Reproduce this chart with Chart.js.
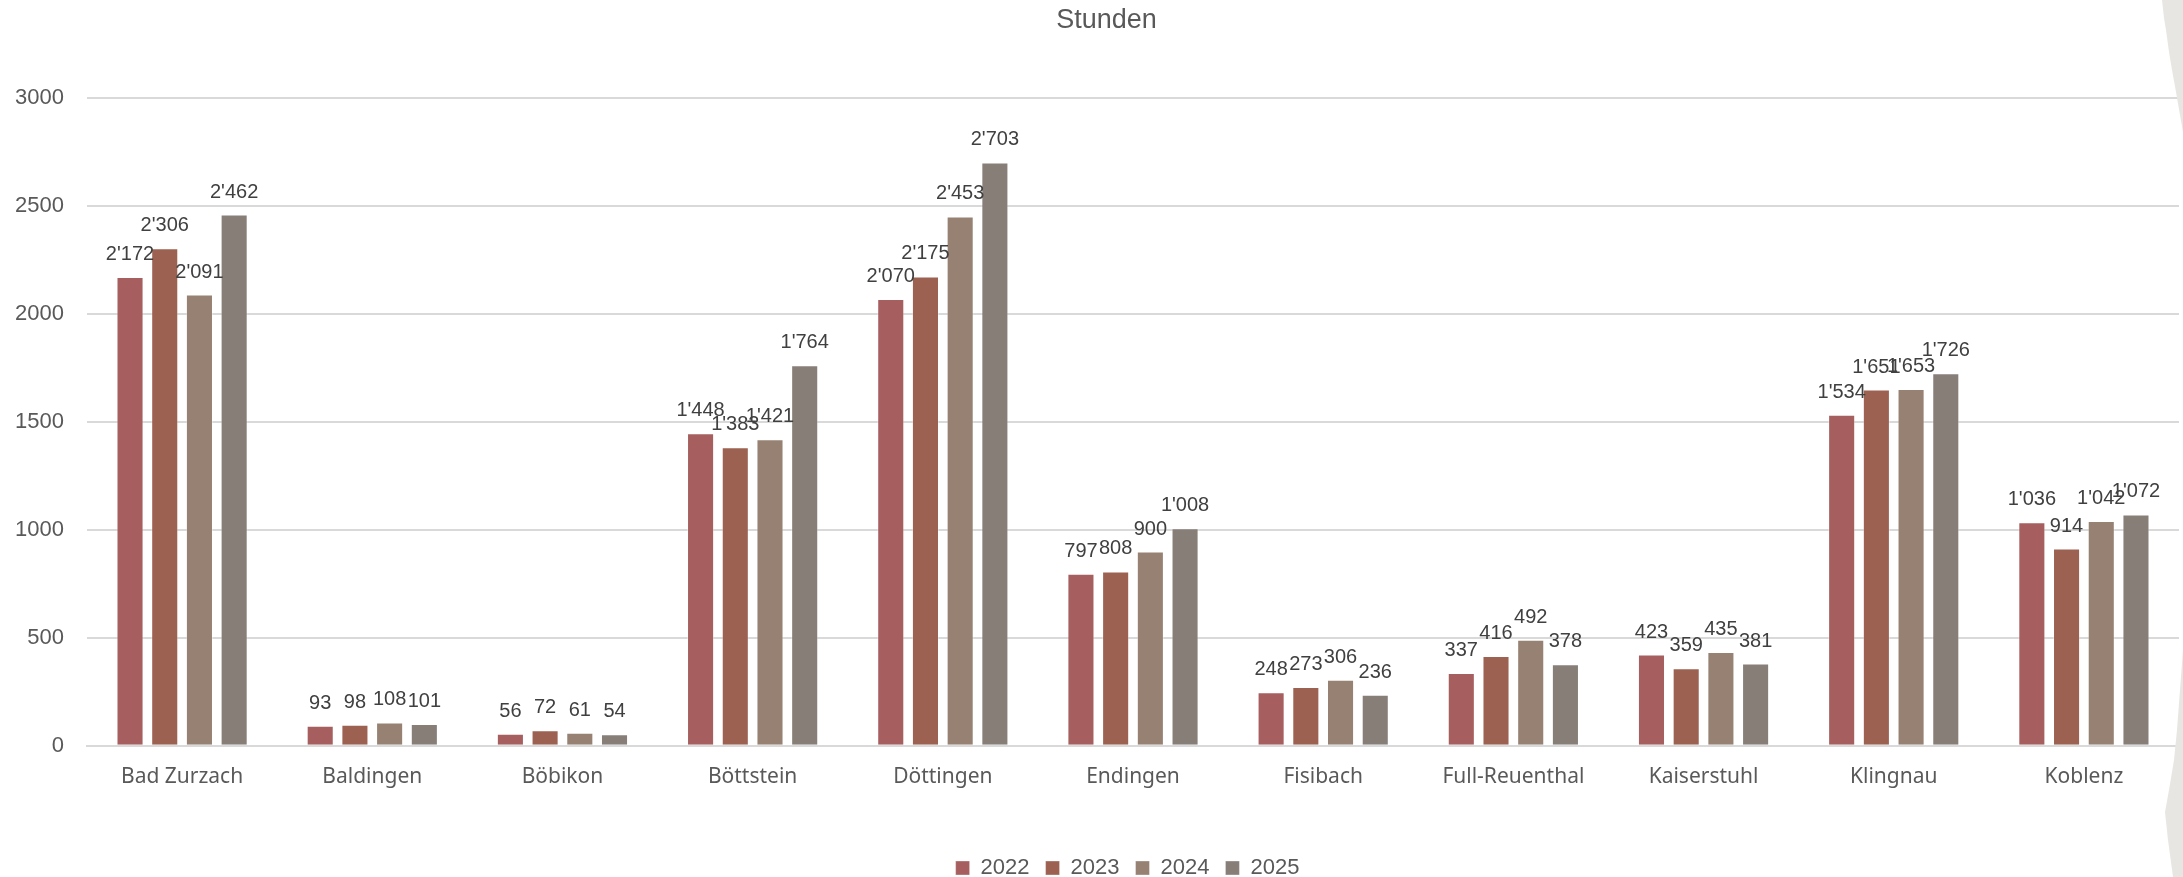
<!DOCTYPE html>
<html>
<head>
<meta charset="utf-8">
<script src="https://cdn.jsdelivr.net/npm/chart.js@4/dist/chart.umd.min.js"></script>
<style>
  html, body { margin: 0; padding: 0; background: #ffffff; }
  #wrap { width: 2183px; height: 877px; position: relative; }
</style>
</head>
<body>
<div id="wrap"><canvas id="chart"></canvas></div>
<script>
// Gemeinden (categories)
const gemeinden = ["Bad Zurzach", "Baldingen", "Böbikon", "Böttstein", "Döttingen", "Endingen",
    "Fisibach", "Full-Reuenthal", "Kaiserstuhl", "Klingnau", "Koblenz"];

// hours per year
const stunden2022 = [2172, 93, 56, 1448, 2070, 797, 248, 337, 423, 1534, 1036];
const stunden2023 = [2306, 98, 72, 1383, 2175, 808, 273, 416, 359, 1651, 914];
const stunden2024 = [2091, 108, 61, 1421, 2453, 900, 306, 492, 435, 1653, 1042];
const stunden2025 = [2462, 101, 54, 1764, 2703, 1008, 236, 378, 381, 1726, 1072];

const jahre = ["2022", "2023", "2024", "2025"];
const farben = ["#a65e5e", "#9c6151", "#968172", "#877e78"];

// y axis
const yMin = 0;
const yMax = 3000;
const yStep = 500;

const textColor = "#595959";
const gridColor = "#d9d9d9";

// 1'234 style, like the swiss number format in the original
function formatZahl(v) {
    return String(Math.round(v)).replace(/\B(?=(\d{3})+(?!\d))/g, "'");
}

// values above the bars
const wertLabels = {
    id: "wertLabels",
    afterDatasetsDraw(chart) {
        const ctx = chart.ctx;
        ctx.save();
        ctx.font = "20px 'Liberation Sans', Arial, sans-serif";
        ctx.fillStyle = "#404040";
        ctx.textAlign = "center";
        ctx.textBaseline = "alphabetic";
        chart.data.datasets.forEach((ds, i) => {
            const meta = chart.getDatasetMeta(i);
            meta.data.forEach((bar, j) => {
                ctx.fillText(formatZahl(ds.data[j]), bar.x, bar.y - 17);
            });
        });
        ctx.restore();
    }
};

// title and legend sit a bit right of the canvas centre in the original,
// the legend also a little lower
const zentrierung = {
    id: "zentrierung",
    afterLayout(chart) {
        if (chart.titleBlock) {
            chart.titleBlock.left += 17;
            chart.titleBlock.right += 17;
        }
        if (chart.legend) {
            chart.legend.left += 38;
            chart.legend.right += 38;
            chart.legend.top += 12;
            chart.legend.bottom += 12;
        }
    }
};

// grey torn paper edge on the right side of the screenshot
const papierRand = {
    id: "papierRand",
    afterDraw(chart) {
        const ctx = chart.ctx;
        const w = chart.width;
        ctx.save();
        ctx.fillStyle = "#e7e6e2";
        ctx.beginPath();
        ctx.moveTo(w, 0);
        ctx.lineTo(w - 21, 0);
        ctx.lineTo(w - 19, 18);
        ctx.lineTo(w - 17, 30);
        ctx.lineTo(w - 14, 52);
        ctx.lineTo(w - 11, 70);
        ctx.lineTo(w - 7, 92);
        ctx.lineTo(w - 3, 115);
        ctx.lineTo(w, 132);
        ctx.closePath();
        ctx.fill();
        ctx.beginPath();
        ctx.moveTo(w, 650);
        ctx.lineTo(w - 3, 690);
        ctx.lineTo(w - 6, 730);
        ctx.lineTo(w - 9, 760);
        ctx.lineTo(w - 14, 790);
        ctx.lineTo(w - 18, 812);
        ctx.lineTo(w - 15, 840);
        ctx.lineTo(w - 10, 877);
        ctx.lineTo(w, 877);
        ctx.closePath();
        ctx.fill();
        ctx.restore();
    }
};

const reihen = [stunden2022, stunden2023, stunden2024, stunden2025];

new Chart(document.getElementById("chart"), {
    type: "bar",
    data: {
        labels: gemeinden,
        datasets: reihen.map((werte, i) => ({
            label: jahre[i],
            data: werte,
            backgroundColor: farben[i],
            borderColor: "rgba(255,255,255,0.35)",
            borderWidth: 1,
            categoryPercentage: 0.73,
            barPercentage: 0.78
        }))
    },
    options: {
        responsive: true,
        maintainAspectRatio: false,
        animation: false,
        layout: {
            padding: { left: 0, right: 4, top: 0, bottom: 0 }
        },
        plugins: {
            title: {
                display: true,
                text: "Stunden",
                color: textColor,
                font: { family: "'Liberation Sans', Arial, sans-serif", size: 27, weight: "normal" },
                padding: { top: 4, bottom: 62 }
            },
            legend: {
                position: "bottom",
                labels: {
                    color: textColor,
                    font: { family: "'Liberation Sans', Arial, sans-serif", size: 22 },
                    boxWidth: 14,
                    boxHeight: 14,
                    padding: 16
                }
            },
            tooltip: { enabled: false }
        },
        scales: {
            x: {
                grid: { display: false, drawTicks: false },
                border: { display: true, color: gridColor, width: 2 },
                ticks: {
                    color: textColor,
                    font: { family: "'Noto Sans', sans-serif", size: 21 },
                    padding: 19,
                    maxRotation: 0,
                    autoSkip: false
                },
                afterFit(scale) {
                    // labels sit in the middle of wide categories, no side padding needed
                    scale.paddingLeft = 0;
                    scale.paddingRight = 0;
                    scale.height += 20;
                }
            },
            y: {
                min: yMin,
                max: yMax,
                grid: { color: gridColor, lineWidth: 2, drawTicks: false },
                border: { display: false },
                ticks: {
                    stepSize: yStep,
                    color: textColor,
                    font: { family: "'Liberation Sans', Arial, sans-serif", size: 22 },
                    padding: 23,
                    callback: (v) => String(v)
                },
                afterFit(scale) {
                    // plot area starts at x = 87 like in the original
                    scale.width = 87;
                }
            }
        }
    },
    plugins: [wertLabels, zentrierung, papierRand]
});
</script>
</body>
</html>
